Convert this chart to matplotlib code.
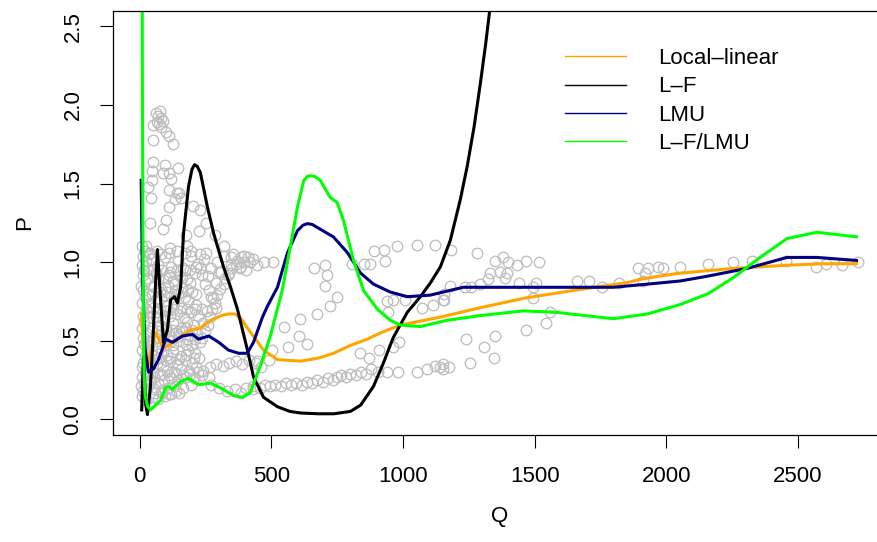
import matplotlib
matplotlib.use("Agg")
import matplotlib.pyplot as plt
from matplotlib.lines import Line2D

plt.rcParams['font.family'] = ['Liberation Sans', 'DejaVu Sans']

# ---------------- data ----------------
obs_column = [(8,0.15),(12,0.18),(6,0.21),(15,0.24),(10,0.27),(18,0.30),(7,0.33),(14,0.36),(20,0.40),
              (9,0.44),(16,0.48),(11,0.52),(22,0.55),(8,0.58),(17,0.62),(12,0.66),(25,0.70),(9,0.74),
              (19,0.78),(14,0.82),(6,0.85),(21,0.88),(11,0.92),(16,0.95),(8,0.98),(24,1.01),(13,1.04),
              (18,1.07),(10,1.10),(28,0.20),(30,0.35),(32,0.50),(35,0.65),(30,0.80),(33,0.95),(36,1.05),
              (25,0.12),(38,0.25),(27,0.45),(38,0.72),(28,0.90)]
obs_arm = [(60,1.95),(68,1.93),(75,1.96),(82,1.92),(88,1.90),(64,1.89),(72,1.88),(52,1.87),(79,1.86),
           (98,1.83),(110,1.80),(52,1.78),(125,1.75),(52,1.64),(94,1.62),(147,1.60),(48,1.58),(87,1.57),
           (110,1.57),(45,1.52),(117,1.53),(33,1.48),(110,1.46),(140,1.44),(155,1.41),(132,1.40),
           (148,1.44),(41,1.41),(110,1.35),(204,1.36),(230,1.33),(98,1.27),(37,1.25),(250,1.25),
           (87,1.21),(226,1.20),(175,1.17),(284,1.17),(113,1.09),(318,1.10),(181,1.10),(22,1.10),
           (348,1.03),(383,1.03)]
obs_top = [(45,1.02),(70,0.98),(95,1.03),(120,0.97),(145,1.01),(170,0.95),(195,1.04),(220,0.99),
           (245,1.02),(270,0.96),(295,1.00),(320,1.04),(345,0.98),(370,1.01),(395,1.04),(420,1.00),
           (445,0.98),(470,1.00),(505,1.00),(60,0.93),(110,0.92),(160,0.90),(210,0.93),(260,0.91),
           (300,0.94),(335,0.92),(380,0.97),(405,0.95),(430,1.02),(355,1.05),(250,1.06)]
obs_block = [(45,0.14),(70,0.13),(95,0.15),(120,0.16),(150,0.17),
             (55,0.19),(82,0.18),(108,0.20),(135,0.21),(165,0.20),(195,0.22),
             (42,0.24),(68,0.23),(93,0.25),(118,0.26),(145,0.25),(175,0.27),(205,0.26),(235,0.28),(262,0.27),
             (50,0.30),(78,0.29),(103,0.31),(130,0.30),(158,0.32),(188,0.31),(215,0.33),
             (40,0.35),(65,0.36),(90,0.34),(115,0.37),(142,0.35),(170,0.38),(198,0.36),(225,0.39),
             (55,0.40),(80,0.42),(105,0.41),(128,0.43),(155,0.40),(182,0.44),(210,0.42),
             (45,0.47),(72,0.46),(98,0.48),(125,0.47),(150,0.50),(175,0.48),(200,0.47),(228,0.49),
             (60,0.52),(85,0.54),(112,0.53),(138,0.55),(165,0.56),(190,0.53),(218,0.55),
             (48,0.58),(75,0.60),(100,0.59),(128,0.61),(155,0.58),(180,0.62),(205,0.60),
             (62,0.65),(88,0.64),(115,0.66),(142,0.67),(168,0.65),(195,0.68),(222,0.66),
             (50,0.71),(78,0.70),(105,0.72),(130,0.74),(158,0.71),(185,0.75),(212,0.73),
             (65,0.77),(92,0.79),(118,0.78),(145,0.80),(172,0.78),(200,0.81),
             (55,0.84),(82,0.83),(108,0.85),(135,0.86),(162,0.84),(190,0.87),
             (70,0.89),(98,0.90),(125,0.88),(152,0.91),(180,0.89)]
obs_block_fill = [(58,0.165),(85,0.17),(110,0.16),(138,0.18),
                  (30,0.28),(55,0.27),(85,0.28),(110,0.28),(138,0.29),(165,0.28),(190,0.29),(220,0.30),
                  (45,0.385),(72,0.39),(98,0.38),(120,0.39),(148,0.385),(175,0.41),(205,0.39),
                  (35,0.50),(65,0.50),(90,0.51),(118,0.50),(145,0.53),(180,0.51),(210,0.51),
                  (42,0.56),(70,0.56),(95,0.57),(122,0.57),(150,0.56),(175,0.58),(200,0.57),
                  (40,0.68),(70,0.68),(98,0.69),(125,0.70),(152,0.69),(180,0.70),(208,0.70),(235,0.70),
                  (45,0.80),(78,0.81),(105,0.81),(132,0.82),(158,0.81),(185,0.82),(215,0.80),
                  (50,0.95),(85,0.95),(115,0.94),(140,0.95),(165,0.96),(190,0.95),(230,0.96),
                  (40,1.06),(65,1.07),(80,1.05),(110,1.06),(140,1.07),(170,1.06),(195,1.07),(230,1.05)]
obs_diag = [(235,0.52),(248,0.56),(242,0.61),(258,0.60),(265,0.65),(255,0.69),(275,0.70),(285,0.74),
            (272,0.78),(295,0.79),(305,0.83),(290,0.87),(318,0.86),(325,0.90),(310,0.94),(340,0.93),
            (352,0.96),(365,0.99),(380,0.96),(395,1.00),(410,1.03),
            (215,0.97),(235,0.92),(248,0.86),(262,0.82),(278,0.77),(290,0.71)]
obs_lowmid = [(240,0.31),(265,0.33),(290,0.35),(315,0.34),(340,0.36),(365,0.37),(390,0.35),(415,0.38),
              (440,0.36),(460,0.33),(270,0.22),(300,0.20),(330,0.18),(360,0.19),(385,0.17),(405,0.20),
              (430,0.19)]
obs_lowband = [(430,0.21),(455,0.20),(475,0.22),(495,0.21),(515,0.22),(535,0.21),(555,0.23),(575,0.22),
               (595,0.23),(615,0.22),(635,0.24),(655,0.23),(675,0.25),(695,0.24),(715,0.26),(735,0.25),
               (750,0.27),(765,0.28),(785,0.27),(800,0.29),(820,0.28),(840,0.30),(860,0.29),(880,0.32),
               (905,0.30),(940,0.30),(980,0.30),(1055,0.30),(1092,0.32),(1123,0.34),(1152,0.35),
               (1152,0.32),(1142,0.33),(1175,0.33)]
obs_sparse = [(547,0.59),(607,0.64),(604,0.53),(637,0.48),(562,0.46),(504,0.44),(490,0.38),(447,0.37),
              (675,0.67),(724,0.72),(748,0.78),(705,0.85),(710,0.92),(661,0.96),(703,0.98),(838,0.42),
              (869,0.39),(908,0.44),(808,0.99),(850,0.99),(876,0.99),(888,1.07),(926,1.08),(933,1.01),
              (979,1.10),(1055,1.11),(1123,1.11),(940,0.75),(963,0.76),(1008,0.76),(944,0.68),
              (1073,0.71),(1115,0.73),(1152,0.76),(983,0.49),(963,0.46),(1183,1.08),(1282,1.06),
              (1350,1.01),(1380,1.03),(1400,1.00),(1433,0.98),(1466,1.01),(1517,1.00),(1332,0.93),
              (1370,0.94),(1396,0.93),(1324,0.89),(1389,0.90),(1294,0.86),(1442,0.87),(1506,0.87),
              (1495,0.84),(1495,0.77),(1180,0.85),(1237,0.84),(1259,0.84),(1154,0.80),(1154,0.76),
              (1560,0.68),(1545,0.61),(1469,0.57),(1351,0.53),(1241,0.51),(1309,0.46),(1347,0.39),
              (1256,0.36),(1663,0.88),(1708,0.88),(1757,0.84),(1822,0.87),(1894,0.96),(1932,0.96),
              (1913,0.88),(1970,0.97),(1920,0.93),(1989,0.96),(2053,0.97),(2160,0.99),(2254,1.00),
              (2326,1.01),(2455,1.01),(2570,0.97),(2608,0.99),(2668,0.98),(2729,1.00)]

loc_q = [6, 10, 14, 22, 29, 45, 60, 75, 90, 128, 193, 230, 269, 310, 336, 362, 385, 409, 440, 470, 523,
         611, 680, 736, 800, 864, 915, 990, 1142, 1268, 1294, 1458, 1648, 1852, 1901, 1970, 2053, 2254,
         2455, 2600, 2729]
loc_p = [0.68, 0.55, 0.44, 0.34, 0.33, 0.46, 0.55, 0.50, 0.45, 0.49, 0.57, 0.58, 0.63, 0.66, 0.67, 0.67,
         0.64, 0.58, 0.51, 0.44, 0.38, 0.37, 0.39, 0.42, 0.47, 0.51, 0.55, 0.60, 0.65, 0.70, 0.71, 0.77,
         0.82, 0.87, 0.89, 0.91, 0.93, 0.96, 0.98, 0.99, 0.99]

lf_q = [7, 14, 22, 29, 40, 48, 60, 67, 79, 90, 105, 117, 132, 143, 155, 166, 185, 198, 208, 218, 230,
        257, 281, 318, 345, 371, 409, 432, 470, 523, 570, 611, 680, 737, 800, 839, 888, 926, 963, 1016,
        1066, 1105, 1142, 1180, 1218, 1244, 1270, 1295, 1315, 1340]
lf_p = [0.05, 0.40, 0.10, 0.03, 0.20, 0.44, 0.87, 1.08, 0.76, 0.49, 0.57, 0.76, 0.78, 0.74, 0.84, 1.18,
        1.48, 1.59, 1.62, 1.61, 1.57, 1.35, 1.18, 0.97, 0.84, 0.70, 0.44, 0.27, 0.14, 0.08, 0.05, 0.04,
        0.035, 0.035, 0.05, 0.09, 0.21, 0.36, 0.52, 0.68, 0.78, 0.87, 0.97, 1.14, 1.40, 1.61, 1.86,
        2.15, 2.40, 2.75]

lmu_q = [5, 6, 10, 20, 33, 52, 71, 86, 98, 124, 162, 200, 223, 262, 300, 337, 376, 408, 432, 466, 485,
         523, 561, 599, 620, 637, 655, 675, 736, 789, 839, 888, 951, 1016, 1103, 1229, 1419, 1609, 1799,
         1928, 2053, 2155, 2307, 2459, 2573, 2729]
lmu_p = [1.53, 1.41, 0.90, 0.45, 0.30, 0.32, 0.38, 0.45, 0.51, 0.49, 0.53, 0.54, 0.51, 0.53, 0.49, 0.44,
         0.42, 0.42, 0.49, 0.65, 0.72, 0.84, 1.06, 1.20, 1.235, 1.245, 1.24, 1.22, 1.16, 1.06, 0.93,
         0.86, 0.81, 0.78, 0.79, 0.84, 0.84, 0.84, 0.84, 0.86, 0.88, 0.91, 0.96, 1.03, 1.03, 1.01]

lflmu_q = [9, 10, 12, 14, 16, 20, 30, 41, 60, 79, 98, 109, 124, 155, 185, 224, 269, 307, 357, 390, 420,
           458, 496, 541, 572, 599, 623, 636, 648, 665, 686, 724, 750, 773, 812, 850, 903, 952, 990, 1066,
           1168, 1294, 1458, 1585, 1799, 1928, 2053, 2160, 2254, 2357, 2459, 2573, 2729]
lflmu_p = [2.80, 2.00, 1.20, 0.60, 0.30, 0.15, 0.08, 0.06, 0.09, 0.12, 0.20, 0.21, 0.19, 0.24, 0.26,
           0.22, 0.23, 0.20, 0.15, 0.14, 0.17, 0.34, 0.53, 0.82, 1.10, 1.35, 1.52, 1.545, 1.55, 1.545,
           1.52, 1.41, 1.38, 1.27, 1.01, 0.82, 0.70, 0.63, 0.60, 0.59, 0.63, 0.66, 0.69, 0.68, 0.64,
           0.67, 0.73, 0.80, 0.90, 1.03, 1.15, 1.19, 1.16]

legend_labels = ["Local\u2013linear", "L\u2013F", "LMU", "L\u2013F/LMU"]
line_colors = ["#FFA500", "#000000", "#000080", "#00FF00"]
x_ticks = [0, 500, 1000, 1500, 2000, 2500]
y_ticks = [0.0, 0.5, 1.0, 1.5, 2.0, 2.5]

# ---------------- figure ----------------
W, H = 878, 542
fig = plt.figure(figsize=(W / 100, H / 100), dpi=100)
left_px, right_px, top_px, bot_px = 112.7, 887.0, 10.7, 435.0
ax = fig.add_axes([left_px / W, 1 - bot_px / H, (right_px - left_px) / W, (bot_px - top_px) / H])

all_obs = (obs_column + obs_arm + obs_top + obs_block + obs_block_fill + obs_diag + obs_lowmid
           + obs_lowband + obs_sparse)
ax.plot([q for q, p in all_obs], [p for q, p in all_obs], linestyle='none', marker='o',
        markersize=7.6, markerfacecolor='none', markeredgecolor='#BEBEBE', markeredgewidth=0.95)

series = [(loc_q, loc_p), (lf_q, lf_p), (lmu_q, lmu_p), (lflmu_q, lflmu_p)]
for (q, p), c in zip(series, line_colors):
    ax.plot(q, p, color=c, linewidth=2.2, solid_joinstyle='round', solid_capstyle='butt')

ax.set_xlim(-103, 2839)
ax.set_ylim(-0.1, 2.6)
ax.set_xticks(x_ticks)
ax.set_xticklabels([str(t) for t in x_ticks])
ax.set_yticks(y_ticks)
ax.set_yticklabels([f"{t:.1f}" for t in y_ticks], rotation=90, va='center')

fs = 16
ax.tick_params(axis='both', direction='out', length=9.5, width=0.8, labelsize=fs, colors='black')
ax.tick_params(axis='x', pad=12.5)
ax.tick_params(axis='y', pad=11.5)
for s in ax.spines.values():
    s.set_linewidth(0.9)

ax.set_xlabel("Q", fontsize=fs, labelpad=14)
ax.set_ylabel("P", fontsize=fs, labelpad=20)

handles = [Line2D([0], [0], color=c, linewidth=1.0) for c in line_colors]
ax.legend(handles, legend_labels, loc='upper left', bbox_to_anchor=(0.584, 0.912),
          frameon=False, fontsize=fs, handlelength=2.75, handletextpad=1.45,
          labelspacing=0.33, borderpad=0, borderaxespad=0)

fig.savefig("out.png", dpi=100)
